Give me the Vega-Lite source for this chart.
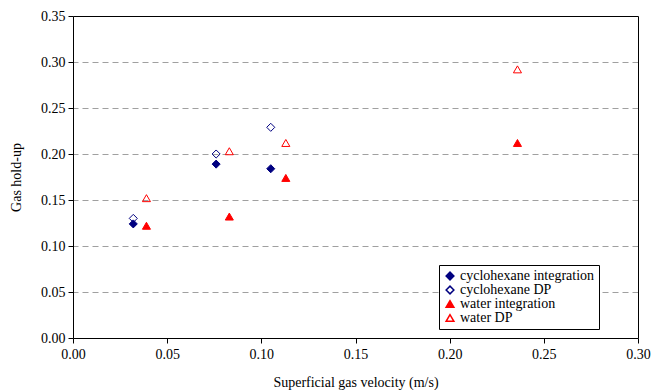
{
  "$schema": "https://vega.github.io/schema/vega-lite/v6.json",
  "width": 565,
  "height": 322,
  "autosize": {"type": "none"},
  "padding": {"left": 73, "top": 16, "right": 18, "bottom": 52},
  "background": "white",
  "config": {
    "font": "Liberation Serif",
    "view": {"stroke": null},
    "axis": {
      "labelFont": "Liberation Serif",
      "titleFont": "Liberation Serif",
      "labelFontSize": 14,
      "titleFontSize": 14,
      "titleFontWeight": "normal",
      "labelColor": "black",
      "titleColor": "black",
      "domainColor": "black",
      "tickColor": "black",
      "tickSize": 5,
      "labelFlush": false
    },
    "legend": {
      "labelFont": "Liberation Serif",
      "labelFontSize": 14,
      "labelColor": "black"
    }
  },
  "data": {
    "values": [
      {"v": 0.032, "h": 0.130, "series": "cyclohexane DP"},
      {"v": 0.076, "h": 0.200, "series": "cyclohexane DP"},
      {"v": 0.105, "h": 0.229, "series": "cyclohexane DP"},
      {"v": 0.032, "h": 0.124, "series": "cyclohexane integration"},
      {"v": 0.076, "h": 0.189, "series": "cyclohexane integration"},
      {"v": 0.105, "h": 0.184, "series": "cyclohexane integration"},
      {"v": 0.039, "h": 0.152, "series": "water DP"},
      {"v": 0.083, "h": 0.203, "series": "water DP"},
      {"v": 0.113, "h": 0.212, "series": "water DP"},
      {"v": 0.236, "h": 0.292, "series": "water DP"},
      {"v": 0.039, "h": 0.122, "series": "water integration"},
      {"v": 0.083, "h": 0.132, "series": "water integration"},
      {"v": 0.113, "h": 0.174, "series": "water integration"},
      {"v": 0.236, "h": 0.212, "series": "water integration"}
    ]
  },
  "layer": [
    {
      "mark": {"type": "point", "opacity": 0},
      "encoding": {
        "x": {
          "field": "v", "type": "quantitative",
          "scale": {"domain": [0, 0.3], "nice": false},
          "axis": {"orient": "top", "labels": false, "ticks": false, "grid": false, "title": null, "domainWidth": 1}
        },
        "y": {
          "field": "h", "type": "quantitative",
          "scale": {"domain": [0, 0.35], "nice": false},
          "axis": {"orient": "right", "labels": false, "ticks": false, "title": null, "domainWidth": 1,
            "values": [0.05, 0.1, 0.15, 0.2, 0.25, 0.3], "grid": true, "gridColor": "#a0a0a0", "gridDash": [6, 4], "gridWidth": 1.2}
        }
      }
    },
    {
      "mark": {"type": "point", "size": 65, "strokeWidth": 1, "opacity": 1},
      "encoding": {
        "x": {
          "field": "v", "type": "quantitative",
          "scale": {"domain": [0, 0.3], "nice": false},
          "axis": {"orient": "bottom", "values": [0, 0.05, 0.1, 0.15, 0.2, 0.25, 0.3], "format": ".2f", "grid": false, "labelPadding": 4, "title": "Superficial gas velocity (m/s)", "titlePadding": 14}
        },
        "y": {
          "field": "h", "type": "quantitative",
          "scale": {"domain": [0, 0.35], "nice": false},
          "axis": {"orient": "left", "values": [0, 0.05, 0.1, 0.15, 0.2, 0.25, 0.3, 0.35], "format": ".2f", "grid": false, "labelPadding": 3, "title": "Gas hold-up", "titlePadding": 17}
        },
        "shape": {
          "field": "series", "type": "nominal",
          "scale": {"domain": ["cyclohexane integration", "cyclohexane DP", "water integration", "water DP"], "range": ["diamond", "diamond", "triangle-up", "triangle-up"]},
          "legend": {"title": null}
        },
        "stroke": {
          "field": "series", "type": "nominal",
          "scale": {"domain": ["cyclohexane integration", "cyclohexane DP", "water integration", "water DP"], "range": ["#000080", "#000080", "#ff0000", "#ff0000"]},
          "legend": {"title": null}
        },
        "fill": {
          "field": "series", "type": "nominal",
          "scale": {"domain": ["cyclohexane integration", "cyclohexane DP", "water integration", "water DP"], "range": ["#000080", "transparent", "#ff0000", "transparent"]},
          "legend": {
            "title": null,
            "orient": "none",
            "legendX": 366,
            "legendY": 249,
            "strokeColor": "black",
            "fillColor": "white",
            "padding": 4,
            "rowPadding": 0,
            "labelOffset": 3,
            "symbolSize": 60,
            "labelLimit": 300
          }
        }
      }
    }
  ],
  "resolve": {"axis": {"x": "independent", "y": "independent"}}
}
